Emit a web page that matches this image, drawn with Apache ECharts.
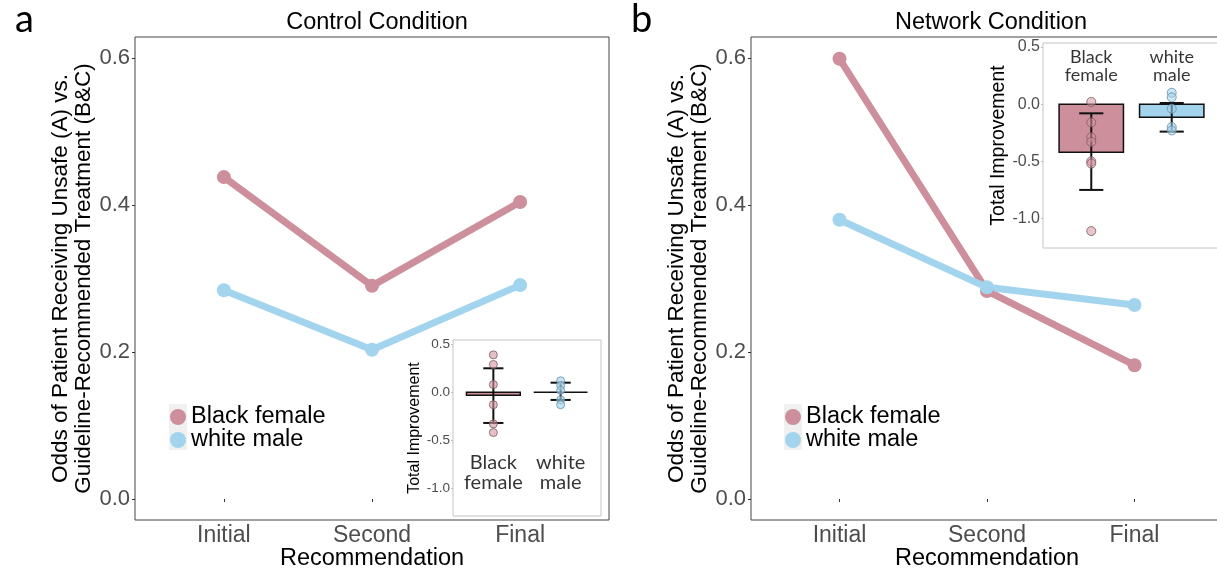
<!DOCTYPE html>
<html>
<head>
<meta charset="utf-8">
<script src="https://cdn.jsdelivr.net/npm/echarts@6/dist/echarts.min.js"></script>
<style>
html, body { margin: 0; padding: 0; background: #fff; }
#chart { width: 1217px; height: 573px; }
</style>
</head>
<body>
<div id="chart"></div>
<script>
// main panels: odds per recommendation round
const stages = ["Initial", "Second", "Final"];
const groups = ["Black female", "white male"];
const controlBlackFemale = [0.438, 0.290, 0.404];
const controlWhiteMale = [0.284, 0.203, 0.291];
const networkBlackFemale = [0.599, 0.283, 0.182];
const networkWhiteMale = [0.380, 0.288, 0.264];
const oddsTicks = [0, 0.2, 0.4, 0.6];

// insets: total improvement per participant group
const controlImproveBF = [0.39, 0.29, 0.08, -0.13, -0.33, -0.42];
const controlImproveWM = [0.12, 0.07, 0.02, -0.08, -0.13];
const controlMean = [-0.03, 0.0];
const controlErrLow = [-0.32, -0.08];
const controlErrHigh = [0.25, 0.10];
const networkImproveBF = [0.02, -0.16, -0.29, -0.33, -0.50, -0.52, -1.11];
const networkImproveWM = [0.10, 0.06, -0.04, -0.20, -0.23];
const networkMean = [-0.42, -0.115];
const networkErrLow = [-0.75, -0.24];
const networkErrHigh = [-0.08, 0.01];
const improveTicks = [0.5, 0, -0.5, -1.0];

const PINK = "#cc8f9b";
const BLUE = "#a3d4ee";
const SANS = "'Liberation Sans', Arial, sans-serif";
const CAL = "Lato, 'Open Sans', sans-serif";

function mainX(gi) {
  return {
    type: "value", gridIndex: gi, min: 0.4, max: 3.6,
    splitLine: { show: false },
    axisLine: { show: false },
    axisTick: { show: true, customValues: [1, 2, 3], length: 3, lineStyle: { color: "#333" } },
    axisLabel: {
      customValues: [1, 2, 3], formatter: v => stages[Math.round(v) - 1],
      fontSize: 23, color: "#4d4d4d", fontFamily: SANS, margin: 4
    },
    name: "Recommendation", nameLocation: "middle", nameGap: 27, nameMoveOverlap: false,
    nameTextStyle: { fontSize: 23.5, color: "#000", fontFamily: SANS }
  };
}
function mainY(gi) {
  return {
    type: "value", gridIndex: gi, min: -0.0286, max: 0.6286,
    splitLine: { show: false },
    axisLine: { show: false },
    axisTick: { show: true, customValues: oddsTicks, length: 3, lineStyle: { color: "#333" } },
    axisLabel: {
      customValues: oddsTicks, formatter: v => v.toFixed(1),
      fontSize: 22, color: "#4d4d4d", fontFamily: SANS, margin: 5
    },
    name: "Odds of Patient Receiving Unsafe (A) vs.\nGuideline-Recommended Treatment (B&C)",
    nameLocation: "middle", nameRotate: 90, nameGap: 40,
    nameTextStyle: { fontSize: 22.5, lineHeight: 23, color: "#000", fontFamily: SANS }
  };
}
function insetX(gi) {
  return {
    type: "value", gridIndex: gi, min: 0.4, max: 2.6,
    splitLine: { show: false }, axisLine: { show: false },
    axisTick: { show: true, customValues: [1, 2], length: 2, lineStyle: { color: "#bbb" } },
    axisLabel: { show: false }
  };
}
function insetY(gi, min, max, fs, nfs, gap) {
  return {
    type: "value", gridIndex: gi, min: min, max: max,
    splitLine: { show: false }, axisLine: { show: false },
    axisTick: { show: true, customValues: improveTicks, length: 2, lineStyle: { color: "#bbb" } },
    axisLabel: {
      customValues: improveTicks, formatter: v => v.toFixed(1),
      fontSize: fs, color: "#4d4d4d", fontFamily: SANS, margin: 3
    },
    name: "Total Improvement", nameLocation: "middle", nameRotate: 90, nameGap: gap,
    nameTextStyle: { fontSize: nfs, color: "#000", fontFamily: SANS }
  };
}

function lineSeries(name, vals, gi, color) {
  return {
    name: name, type: "line", xAxisIndex: gi, yAxisIndex: gi,
    data: vals.map((v, i) => [i + 1, v]),
    symbol: "circle", symbolSize: 14, showSymbol: true,
    itemStyle: { color: color }, lineStyle: { color: color, width: 7 },
    z: 3
  };
}

function barSeries(means, gi) {
  return {
    type: "custom", xAxisIndex: gi, yAxisIndex: gi, z: 3,
    data: means.map((m, i) => [i + 1, m]),
    renderItem: function (params, api) {
      const x = api.value(0), m = api.value(1);
      const a = api.coord([x - 0.4, 0]), b = api.coord([x + 0.4, m]);
      return {
        type: "polygon",
        shape: { points: [[a[0], a[1]], [b[0], a[1]], [b[0], b[1]], [a[0], b[1]]] },
        style: { fill: x === 1 ? PINK : BLUE, stroke: "#111", lineWidth: 1.5 }
      };
    }
  };
}
function errSeries(lows, highs, gi) {
  return {
    type: "custom", xAxisIndex: gi, yAxisIndex: gi, z: 4,
    data: lows.map((l, i) => [i + 1, l, highs[i]]),
    renderItem: function (params, api) {
      const x = api.value(0);
      const lo = api.coord([x, api.value(1)]), hi = api.coord([x, api.value(2)]);
      const l = api.coord([x - 0.15, 0])[0], r = api.coord([x + 0.15, 0])[0];
      const st = { stroke: "#111", lineWidth: 2 };
      return {
        type: "group", children: [
          { type: "line", shape: { x1: lo[0], y1: lo[1], x2: hi[0], y2: hi[1] }, style: st },
          { type: "line", shape: { x1: l, y1: lo[1], x2: r, y2: lo[1] }, style: st },
          { type: "line", shape: { x1: l, y1: hi[1], x2: r, y2: hi[1] }, style: st }
        ]
      };
    }
  };
}
function pointSeries(vals, x, gi, fill, stroke, size) {
  return {
    type: "scatter", xAxisIndex: gi, yAxisIndex: gi, z: 5,
    data: vals.map(v => [x, v]), symbolSize: size,
    itemStyle: { color: fill, borderColor: stroke, borderWidth: 1 }
  };
}
function labelSeries(y, gi, fs) {
  return {
    type: "scatter", xAxisIndex: gi, yAxisIndex: gi, z: 6,
    data: groups.map((g, i) => [i + 1, y]), symbolSize: 1,
    itemStyle: { color: "rgba(0,0,0,0)" },
    label: {
      show: true, position: "inside",
      formatter: p => groups[p.dataIndex].replace(" ", "\n"),
      fontSize: fs, lineHeight: fs, color: "#000", fontFamily: CAL
    }
  };
}

const gridBase = { show: true, borderWidth: 1, backgroundColor: "#fff", outerBoundsMode: "none", containLabel: false };

const option = {
  backgroundColor: "#fff",
  animation: false,
  title: [
    { text: "Control Condition", left: 372, top: 6, textAlign: "center",
      textStyle: { fontSize: 23.5, fontWeight: "normal", color: "#000", fontFamily: SANS } },
    { text: "Network Condition", left: 986, top: 6, textAlign: "center",
      textStyle: { fontSize: 23.5, fontWeight: "normal", color: "#000", fontFamily: SANS } },
    { text: "a", left: 10, top: -4, textStyle: { fontSize: 38, fontWeight: "normal", color: "#000", fontFamily: CAL } },
    { text: "b", left: 626, top: -4, textStyle: { fontSize: 38, fontWeight: "normal", color: "#000", fontFamily: CAL } }
  ],
  graphic: [
    { type: "rect", left: 169, top: 404, shape: { width: 18, height: 46 }, style: { fill: "#f0f0f0" }, z: 0 },
    { type: "rect", left: 784, top: 404, shape: { width: 18, height: 46 }, style: { fill: "#f0f0f0" }, z: 0 }
  ],
  legend: [
    { data: groups, orient: "vertical", left: 165, top: 400, icon: "circle",
      itemWidth: 16, itemHeight: 16, itemGap: -1,
      textStyle: { fontSize: 23.5, lineHeight: 19, color: "#000", fontFamily: SANS } },
    { data: groups, orient: "vertical", left: 780, top: 400, icon: "circle",
      itemWidth: 16, itemHeight: 16, itemGap: -1,
      textStyle: { fontSize: 23.5, lineHeight: 19, color: "#000", fontFamily: SANS } }
  ],
  grid: [
    Object.assign({ left: 135, top: 37, width: 474, height: 483, borderColor: "#444" }, gridBase),
    Object.assign({ left: 751, top: 37, width: 472, height: 483, borderColor: "#444" }, gridBase),
    Object.assign({ left: 453, top: 340, width: 148, height: 176, borderColor: "#c4c4c4", z: 2 }, gridBase),
    Object.assign({ left: 1043, top: 43, width: 177, height: 205, borderColor: "#c4c4c4", z: 2 }, gridBase)
  ],
  xAxis: [mainX(0), mainX(1), insetX(2), insetX(3)],
  yAxis: [mainY(0), mainY(1), insetY(2, -1.29, 0.545, 13.5, 16, 23), insetY(3, -1.258, 0.535, 16, 19.5, 33)],
  series: [
    lineSeries(groups[0], controlBlackFemale, 0, PINK),
    lineSeries(groups[1], controlWhiteMale, 0, BLUE),
    lineSeries(groups[0], networkBlackFemale, 1, PINK),
    lineSeries(groups[1], networkWhiteMale, 1, BLUE),

    barSeries(controlMean, 2),
    errSeries(controlErrLow, controlErrHigh, 2),
    pointSeries(controlImproveBF, 1, 2, "rgba(214,150,162,0.75)", "#7d5a61", 8),
    pointSeries(controlImproveWM, 2, 2, "rgba(163,211,238,0.8)", "#6a8fa6", 8),
    labelSeries(-0.835, 2, 20),

    barSeries(networkMean, 3),
    errSeries(networkErrLow, networkErrHigh, 3),
    pointSeries(networkImproveBF, 1, 3, "rgba(214,150,162,0.7)", "#7d5a61", 9),
    pointSeries(networkImproveWM, 2, 3, "rgba(163,211,238,0.7)", "#6a8fa6", 9),
    labelSeries(0.335, 3, 18)
  ]
};

const myChart = echarts.init(document.getElementById("chart"));
myChart.setOption(option);
window.addEventListener("resize", function () {
  myChart.resize();
});
</script>
</body>
</html>
